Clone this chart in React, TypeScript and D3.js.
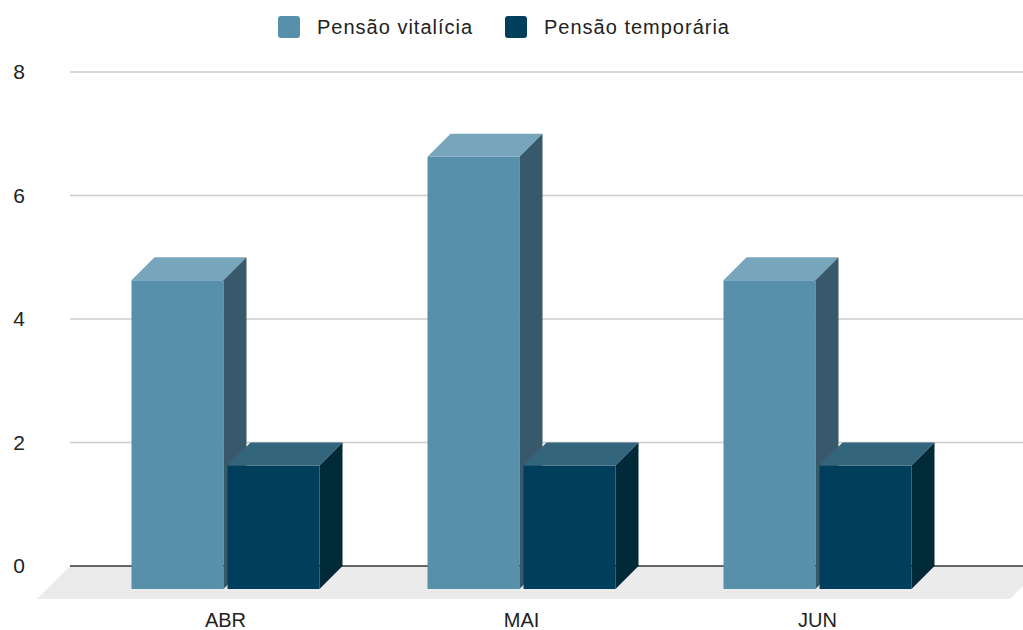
import React, { useEffect, useRef } from 'react';
import * as d3 from 'd3';

const categories = ['ABR', 'MAI', 'JUN'];
const seriesNames = ['Pensão vitalícia', 'Pensão temporária'];
const vitalicia = [5, 7, 5];
const temporaria = [2, 2, 2];
const yTicks = [0, 2, 4, 6, 8];

// front / top / side shades per series
const faceColors = [
  { front: '#5690ab', top: '#77a6bc', side: '#37596b' },
  { front: '#003f5c', top: '#33657d', side: '#002a38' },
];

const App = () => {
  const svgRef = useRef<SVGSVGElement>(null);

  useEffect(() => {
    const width = 1023;
    const height = 630;
    const depth = 23; // 3d offset of the bars
    const floorFront = 10; // floor reaches past the bars

    const svg = d3.select(svgRef.current)
      .attr('width', width)
      .attr('height', height)
      .style('font-family', '"Liberation Sans", Arial, sans-serif');
    svg.selectAll('*').remove();

    // back plane scale (gridlines)
    const yBack = d3.scaleLinear().domain([0, 8]).range([566, 72]);
    // front plane scale (bar faces)
    const yFront = (v: number) => yBack(v) + depth;

    const x0 = d3.scaleBand().domain(categories).range([77.5, 965.5]);
    const x1 = d3.scaleBand().domain(seriesNames).range([54, 242]).paddingInner(4 / 96);

    // gridlines
    svg.append('g')
      .selectAll('line')
      .data(yTicks.filter(d => d > 0))
      .join('line')
      .attr('x1', 70)
      .attr('x2', width)
      .attr('y1', d => yBack(d))
      .attr('y2', d => yBack(d))
      .attr('stroke', '#cccccc')
      .attr('stroke-width', 1.5);

    // floor
    const z = yBack(0);
    const fd = depth + floorFront;
    svg.append('path')
      .attr('d', `M70,${z} L${width + 20},${z} L${width + 20 - fd},${z + fd} L${70 - fd},${z + fd} Z`)
      .attr('fill', '#ebebeb');

    svg.append('line')
      .attr('x1', 70)
      .attr('x2', width)
      .attr('y1', z)
      .attr('y2', z)
      .attr('stroke', '#333333')
      .attr('stroke-width', 1.5);

    // y tick labels
    svg.append('g')
      .selectAll('text')
      .data(yTicks)
      .join('text')
      .attr('x', 25)
      .attr('y', d => yBack(d))
      .attr('dy', '0.35em')
      .attr('text-anchor', 'end')
      .style('font-size', '21px')
      .style('fill', '#222')
      .text(d => d);

    // bars
    const data = [vitalicia, temporaria];
    data.forEach((values, si) => {
      const c = faceColors[si];
      const g = svg.append('g');
      categories.forEach((cat, i) => {
        const xl = x0(cat)! + x1(seriesNames[si])!;
        const xr = xl + x1.bandwidth();
        const yt = yFront(values[i]);
        const yb = yFront(0);
        g.append('rect')
          .attr('x', xl)
          .attr('y', yt)
          .attr('width', xr - xl)
          .attr('height', yb - yt)
          .attr('fill', c.front);
        g.append('path')
          .attr('d', `M${xl},${yt} L${xl + depth},${yt - depth} L${xr + depth},${yt - depth} L${xr},${yt} Z`)
          .attr('fill', c.top);
        g.append('path')
          .attr('d', `M${xr},${yt} L${xr + depth},${yt - depth} L${xr + depth},${yb - depth} L${xr},${yb} Z`)
          .attr('fill', c.side);
      });
    });

    // category labels
    svg.append('g')
      .selectAll('text')
      .data(categories)
      .join('text')
      .attr('x', d => x0(d)! + x0.bandwidth() / 2)
      .attr('y', 627)
      .attr('text-anchor', 'middle')
      .style('font-size', '20px')
      .style('fill', '#222')
      .text(d => d);

    // legend
    const legendX = [278, 505];
    const legend = svg.append('g');
    seriesNames.forEach((name, i) => {
      legend.append('rect')
        .attr('x', legendX[i])
        .attr('y', 16)
        .attr('width', 22)
        .attr('height', 22)
        .attr('rx', 3)
        .attr('fill', faceColors[i].front);
      legend.append('text')
        .attr('x', legendX[i] + 39)
        .attr('y', 33.5)
        .style('font-size', '20px')
        .style('letter-spacing', '1px')
        .style('fill', '#222')
        .text(name);
    });
  }, []);

  return (
    <div style={{ position: 'absolute', left: 0, top: 0 }}>
      <svg ref={svgRef}></svg>
    </div>
  );
};

export default App;
